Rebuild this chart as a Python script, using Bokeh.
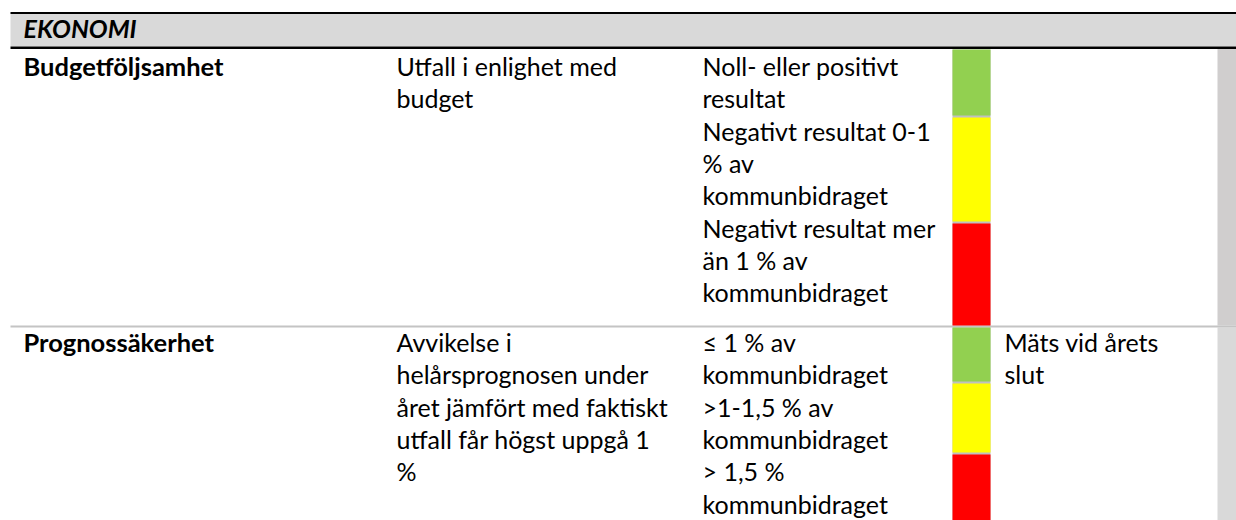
from bokeh.plotting import figure
from bokeh.models import Range1d
from bokeh.embed import file_html
from bokeh.resources import INLINE
from bokeh.core.properties import value

# ---------------- data ----------------
section_title = "EKONOMI"
indicators = ["Budgetföljsamhet", "Prognossäkerhet"]
descriptions = [
    ["Utfall i enlighet med", "budget"],
    ["Avvikelse i", "helårsprognosen under", "året jämfört med faktiskt",
     "utfall får högst uppgå 1", "%"],
]
criteria = [
    [["Noll- eller positivt", "resultat"],
     ["Negativt resultat 0-1", "% av", "kommunbidraget"],
     ["Negativt resultat mer", "än 1 % av", "kommunbidraget"]],
    [["≤ 1 % av", "kommunbidraget"],
     [">1-1,5 % av", "kommunbidraget"],
     ["> 1,5 %", "kommunbidraget"]],
]
status_colors = ["#92d050", "#ffff00", "#ff0000"]
comments = [[], ["Mäts vid årets", "slut"]]

# ---------------- layout ----------------
W, H = 1236, 520
FONT = "Lato"
FS = "25px"
LINE = 32.3
TEXT_DY = -10          # compensation for svg alphabetic baseline placement
col_x = [23, 396, 702, 1004]
bar_x0, bar_x1 = 952, 990
strip_x0 = 1217
first_base = [75.5, 351.5]
bar_edges = [[49, 115, 117, 221, 223, 325],
             [327, 381, 383, 452, 454, 525]]

p = figure(width=W, height=H, output_backend="svg", toolbar_location=None,
           x_range=Range1d(0, W), y_range=Range1d(H, 0), min_border=0)
p.axis.visible = False
p.grid.visible = False
p.outline_line_color = None
p.background_fill_color = "white"
p.border_fill_color = "white"

# header band and rules
p.quad(left=[10], right=[W], top=[13], bottom=[46], fill_color="#d9d9d9", line_color=None)
p.quad(left=[10, 10], right=[W, W], top=[11.5, 46], bottom=[13.5, 48.5],
       fill_color="black", line_color=None)

# right strip
p.quad(left=[strip_x0, strip_x0], right=[W, W], top=[48.5, 327], bottom=[325, H],
       fill_color=["#d0cece", "#d9d9d9"], line_color=None)

# row separator
p.quad(left=[10], right=[W], top=[325], bottom=[327], fill_color="#c4c4c4", line_color=None)

# status bars
bl, br, bt, bb, bc = [], [], [], [], []
for r in range(len(indicators)):
    e = bar_edges[r]
    for k, c in enumerate(status_colors):
        bl.append(bar_x0); br.append(bar_x1)
        bt.append(e[2 * k]); bb.append(e[2 * k + 1]); bc.append(c)
p.quad(left=[bar_x0, bar_x0], right=[bar_x1, bar_x1],
       top=[bar_edges[0][0], bar_edges[1][0]], bottom=[bar_edges[0][-1], bar_edges[1][-1]],
       fill_color="#c0c0c0", line_color=None)
p.quad(left=bl, right=br, top=bt, bottom=bb, fill_color=bc, line_color=None)

# header text
p.text(x=[col_x[0]], y=[37.5 + TEXT_DY], text=[section_title], text_font=value(FONT),
       text_font_size=FS, text_font_style="bold italic", text_baseline="alphabetic",
       text_color="black")

# row texts
bx, by, bt_ = [], [], []
nx, ny, nt = [], [], []
for r, name in enumerate(indicators):
    b0 = first_base[r] + TEXT_DY
    bx.append(col_x[0]); by.append(b0); bt_.append(name)
    for i, s in enumerate(descriptions[r]):
        nx.append(col_x[1]); ny.append(b0 + i * LINE); nt.append(s)
    lines = [s for cell in criteria[r] for s in cell]
    for i, s in enumerate(lines):
        nx.append(col_x[2]); ny.append(b0 + i * LINE); nt.append(s)
    for i, s in enumerate(comments[r]):
        nx.append(col_x[3]); ny.append(b0 + i * LINE); nt.append(s)

p.text(x=bx, y=by, text=bt_, text_font=value(FONT), text_font_size="25.5px",
       text_font_style="bold", text_baseline="alphabetic", text_color="black")
p.text(x=nx, y=ny, text=nt, text_font=value(FONT), text_font_size=FS,
       text_baseline="alphabetic", text_color="black")

open("out.html", "w").write(file_html(p, INLINE))
